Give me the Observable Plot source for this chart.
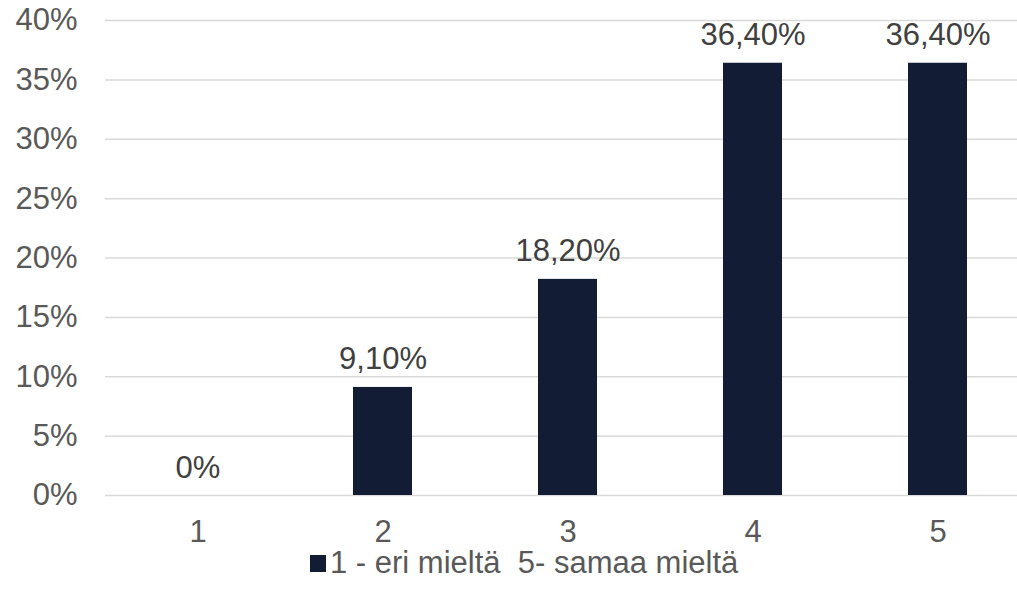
<!DOCTYPE html>
<html>
<head>
<meta charset="utf-8">
<script src="https://cdn.jsdelivr.net/npm/d3@7"></script>
<script src="https://cdn.jsdelivr.net/npm/@observablehq/plot@0.6"></script>
<style>
  html, body { margin: 0; padding: 0; background: #fff; overflow: hidden; }
  #wrap { position: relative; width: 1017px; height: 607px; font-family: "Liberation Sans", Arial, sans-serif; }
  #chart svg { display: block; }
  #legend { position: absolute; left: 310px; top: 553px; height: 20px; line-height: 20px; display: flex; align-items: center; color: #595959; font-size: 31px; white-space: pre; }
  #legend .sw { width: 16px; height: 17px; background: #131c35; margin-right: 4px; }
</style>
</head>
<body>
<div id="wrap"><div id="chart"></div><div id="legend"><span class="sw"></span><span id="legtext"></span></div></div>
<script>
const categories = ["1", "2", "3", "4", "5"];
const values = [0, 9.1, 18.2, 36.4, 36.4];
const valueLabels = ["0%", "9,10%", "18,20%", "36,40%", "36,40%"];
const yTicks = [0, 5, 10, 15, 20, 25, 30, 35, 40];
const seriesName = "1 - eri mieltä  5- samaa mieltä";

const data = categories.map((c, i) => ({cat: c, value: values[i], label: valueLabels[i]}));

const chart = Plot.plot({
  width: 1017,
  height: 552,
  marginLeft: 105,
  marginRight: 0,
  marginTop: 20,
  marginBottom: 57,
  style: {fontFamily: "'Liberation Sans', Arial, sans-serif", color: "#595959", background: "#fff"},
  x: {domain: categories, range: [105, 1030], paddingInner: 0.68, paddingOuter: 0.34},
  y: {domain: [0, 40]},
  marks: [
    Plot.ruleY(yTicks, {stroke: "#d9d9d9", strokeWidth: 1.5}),
    Plot.barY(data, {x: "cat", y: "value", fill: "#131c35"}),
    Plot.text(data, {x: "cat", y: "value", text: "label", lineAnchor: "bottom", dy: -18, fontSize: 31, fill: "#404040"}),
    Plot.axisX({tickSize: 0, tickPadding: 24, fontSize: 31, label: null, fill: "#595959"}),
    Plot.axisY({ticks: yTicks, tickSize: 0, tickPadding: 28, fontSize: 31, label: null, fill: "#595959", tickFormat: d => d + "%"})
  ]
});
document.getElementById("chart").appendChild(chart);
document.getElementById("legtext").textContent = seriesName;
</script>
</body>
</html>
